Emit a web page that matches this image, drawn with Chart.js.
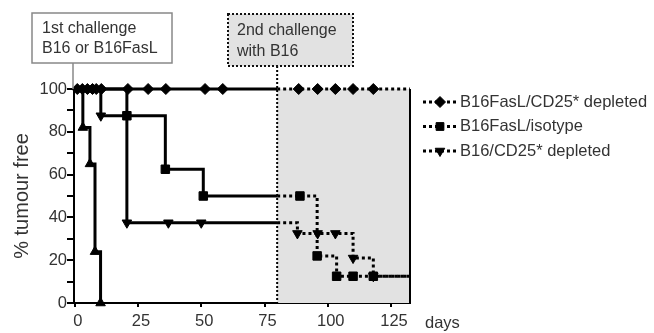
<!DOCTYPE html>
<html><head><meta charset="utf-8">
<script src="https://cdn.jsdelivr.net/npm/chart.js@4.4.1/dist/chart.umd.min.js"></script>
<style>html,body{margin:0;padding:0;background:#fff}#wrap{width:654px;height:333px;position:relative}</style>
</head><body><div id="wrap"><canvas id="c" width="654" height="333"></canvas></div>
<script>
// ---- data (days, % tumour free, whether a symbol is drawn at that point) ----
const seriesLabels = ['B16FasL/CD25* depleted', 'B16FasL/isotype', 'B16/CD25* depleted', ''];

const diamondDays   = [0, 1, 3, 5, 7, 8.5, 10.5, 21, 29, 36, 51.5, 58.5, 80, 88.5, 96, 103, 110, 118, 132.5];
const diamondLevels = [100,100,100,100,100,100,100,100,100,100,100,100,100,100,100,100,100,100,100];
const diamondMarks  = [0, 1, 1, 1, 1, 1, 1, 1, 1, 1, 1, 1, 0, 1, 1, 1, 1, 1, 0];

const squareDays   = [0, 20.6, 35.8, 50.8, 80, 89, 95.8, 103.5, 110, 118, 132.5];
const squareLevels = [100, 87.5, 62.5, 50, 50, 50, 22, 12.5, 12.5, 12.5, 12.5];
const squareMarks  = [0, 1, 1, 1, 0, 1, 1, 1, 1, 1, 0];

const downTriDays   = [0, 10.3, 20.6, 37, 50, 80, 88, 96, 103, 110, 118, 132.5];
const downTriLevels = [100, 87.5, 37.5, 37.5, 37.5, 37.5, 32.5, 32.5, 32.5, 21, 12.5, 12.5];
const downTriMarks  = [0, 1, 1, 1, 1, 0, 1, 1, 1, 1, 1, 0];

const upTriDays   = [0, 3.2, 6, 8, 10.2];
const upTriLevels = [100, 82, 65, 24, 0];
const upTriMarks  = [0, 1, 1, 1, 1];

const xTickValues = [0, 25, 50, 75, 100, 125];
const yTickValues = [0, 10, 20, 30, 40, 50, 60, 70, 80, 90, 100];
const yTickLabels = [0, 20, 40, 60, 80, 100];
const secondChallengeDay = 80;
const observationEndDay = 132.5;
const xAxisUnit = 'days';
const yAxisTitle = '% tumour free';
const firstChallengeText = ['1st challenge', 'B16 or B16FasL'];
const secondChallengeText = ['2nd challenge', 'with B16'];

// ---- build ----
const FONT = "'Liberation Sans', Arial, Helvetica, sans-serif";
const TXT = '#333';
function pts(days, levels) { return days.map((d, i) => ({x: d, y: levels[i]})); }
function mk(label, days, levels, marks, style, rot, r) {
  return {
    label, data: pts(days, levels),
    stepped: 'before', borderColor: '#000', borderWidth: 3, fill: false,
    pointStyle: style, pointRotation: rot,
    pointRadius: marks.map(m => m ? r : 0), pointHoverRadius: marks.map(m => m ? r : 0),
    pointBackgroundColor: '#000', pointBorderColor: '#000', pointBorderWidth: 1,
    clip: false,
    segment: { borderDash: ctx => ctx.p0.parsed.x >= secondChallengeDay ? [3, 3] : undefined }
  };
}
const datasets = [
  mk(seriesLabels[0], diamondDays, diamondLevels, diamondMarks, 'rectRot', 0, 5.5),
  mk(seriesLabels[1], squareDays, squareLevels, squareMarks, 'rect', 0, 6),
  mk(seriesLabels[2], downTriDays, downTriLevels, downTriMarks, 'triangle', 180, 5.5),
  mk(seriesLabels[3], upTriDays, upTriLevels, upTriMarks, 'triangle', 0, 5.5)
];

const decor = {
  id: 'decor',
  beforeDatasetsDraw(chart) {
    const {ctx, scales: {x, y}} = chart;
    const x0 = x.getPixelForValue(secondChallengeDay), x1 = x.getPixelForValue(observationEndDay);
    const yt = y.getPixelForValue(100), yb = y.getPixelForValue(0);
    ctx.save();
    ctx.fillStyle = '#e2e2e2';
    ctx.fillRect(x0, yt, x1 - x0, yb - yt);
    ctx.strokeStyle = '#000'; ctx.lineWidth = 2;
    ctx.beginPath(); ctx.moveTo(x1, yt); ctx.lineTo(x1, yb); ctx.stroke();
    // dotted connector from 2nd challenge box
    ctx.setLineDash([2, 2]);
    ctx.beginPath(); ctx.moveTo(x0, 66); ctx.lineTo(x0, yb); ctx.stroke();
    ctx.restore();
  },
  afterDraw(chart) {
    const {ctx, scales: {x, y}} = chart;
    ctx.save();
    // box 1
    const xl = chart.chartArea.left - 1;
    ctx.strokeStyle = '#888'; ctx.lineWidth = 1.5;
    ctx.beginPath(); ctx.moveTo(xl, 63); ctx.lineTo(xl, y.getPixelForValue(100)); ctx.stroke();
    ctx.fillStyle = '#fff';
    ctx.fillRect(32, 13, 140, 50);
    ctx.strokeRect(32, 13, 140, 50);
    ctx.fillStyle = TXT; ctx.font = '16px ' + FONT; ctx.textBaseline = 'middle'; ctx.textAlign = 'left';
    ctx.fillText(firstChallengeText[0], 42, 29);
    ctx.fillText(firstChallengeText[1], 42, 49);
    // box 2
    ctx.fillStyle = '#e2e2e2';
    ctx.fillRect(228, 14, 125, 52);
    ctx.strokeStyle = '#111'; ctx.lineWidth = 2; ctx.setLineDash([2, 2]);
    ctx.strokeRect(228, 14, 125, 52);
    ctx.setLineDash([]);
    ctx.fillStyle = TXT;
    ctx.fillText(secondChallengeText[0], 237, 31);
    ctx.fillText(secondChallengeText[1], 237, 52);
    // x unit
    ctx.font = '16.5px ' + FONT;
    ctx.fillText(xAxisUnit, 425, 323);
    // legend
    const items = chart.data.datasets.filter(d => d.label);
    items.forEach((d, i) => {
      const cy = 102 + i * 24.5;
      ctx.strokeStyle = '#000'; ctx.lineWidth = 3; ctx.setLineDash([3, 3]);
      ctx.beginPath(); ctx.moveTo(423, cy); ctx.lineTo(456, cy); ctx.stroke();
      ctx.setLineDash([]);
      ctx.fillStyle = '#000'; ctx.strokeStyle = '#000'; ctx.lineWidth = 1;
      Chart.helpers.drawPoint(ctx, {pointStyle: d.pointStyle, rotation: d.pointRotation, radius: 5.5, borderWidth: 1}, 440, cy);
      ctx.fillStyle = TXT; ctx.font = '16.5px ' + FONT;
      ctx.fillText(d.label, 460, cy);
    });
    ctx.restore();
  }
};

new Chart(document.getElementById('c'), {
  type: 'line',
  data: { datasets },
  options: {
    responsive: false, devicePixelRatio: 1, animation: false, events: [],
    layout: { padding: { top: 89, right: 244, left: 0, bottom: 0 } },
    plugins: { legend: { display: false }, tooltip: { enabled: false } },
    scales: {
      x: {
        type: 'linear', min: -0.3, max: observationEndDay,
        afterBuildTicks: s => { s.ticks = xTickValues.map(v => ({value: v})); },
        afterFit: s => { s.height = 30; },
        ticks: { font: { family: FONT, size: 16.5 }, color: TXT, padding: 5, labelOffset: 3, maxRotation: 0, autoSkip: false },
        grid: { drawOnChartArea: false, drawTicks: true, tickLength: 4, color: '#000', lineWidth: 2 },
        border: { color: '#000', width: 2 }
      },
      y: {
        min: 0, max: 100,
        afterBuildTicks: s => { s.ticks = yTickValues.map(v => ({value: v})); },
        afterFit: s => { s.width = 74; },
        ticks: { font: { family: FONT, size: 16.5 }, color: TXT, padding: 0, autoSkip: false,
                 callback: v => yTickLabels.includes(v) ? String(v) : '' },
        grid: { drawOnChartArea: false, drawTicks: true, tickLength: 7, color: '#000', lineWidth: 2 },
        border: { color: '#000', width: 2 },
        title: { display: true, text: yAxisTitle, color: TXT, font: { family: FONT, size: 20 }, padding: { top: 10, bottom: 0 } }
      }
    }
  },
  plugins: [decor]
});
</script></body></html>
